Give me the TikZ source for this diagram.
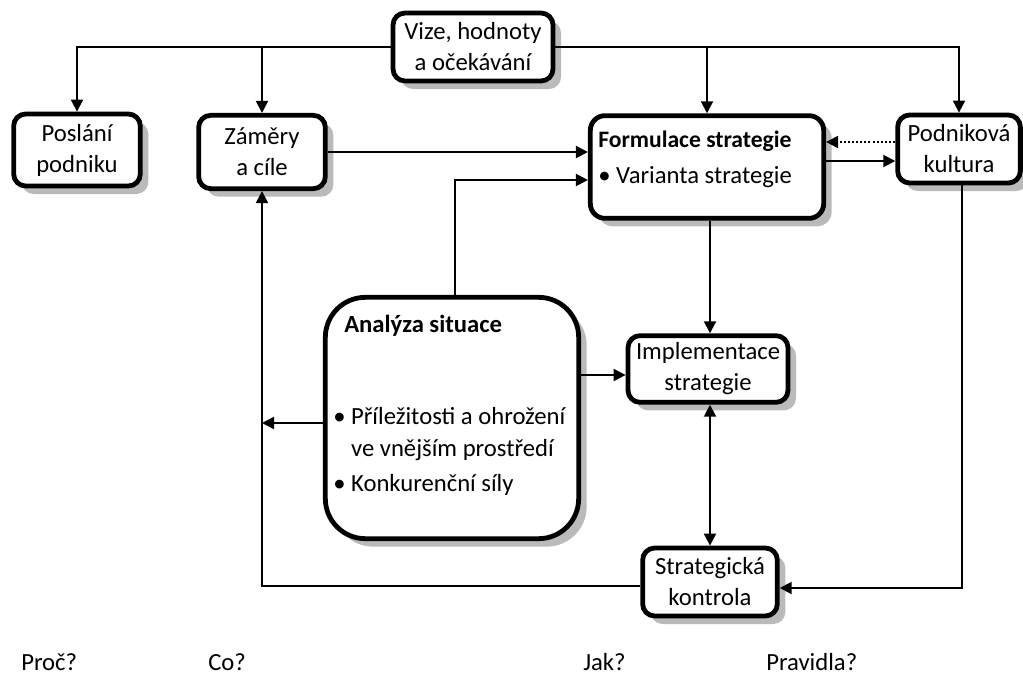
\documentclass[tikz,border=0pt]{standalone}
\usepackage{fontspec}
\setmainfont{Carlito}
\usetikzlibrary{arrows.meta,shadows,calc}
\begin{document}
\begin{tikzpicture}[x=0.75pt,y=-0.75pt,
  txt/.style={font=\fontsize{18.5}{23.25}\selectfont},
  card/.style={draw=black, line width=3.6pt, fill=white, rounded corners=9pt,
    inner sep=0pt, align=center, txt,
    drop shadow={fill=black!27, opacity=1, shadow xshift=6pt, shadow yshift=-6pt}},
  link/.style={line width=1.5pt, -{Triangle[length=9pt,width=9pt]}},
  dlink/.style={line width=1.5pt, {Triangle[length=9pt,width=9pt]}-{Triangle[length=9pt,width=9pt]}},
  lbl/.style={txt, anchor=west, inner sep=0pt}]
\useasboundingbox (0,0) rectangle (1023,675);

% boxes (sizes in pt)
\node[card, minimum width=120pt, minimum height=51pt] (vize) at (473,47) {Vize, hodnoty\\a očekávání};
\node[card, minimum width=95pt, minimum height=54pt] (poslani) at (77,150) {Poslání\\podniku};
\node[card, minimum width=95pt, minimum height=55pt] (zamery) at (262,152) {Záměry\\a cíle};
\node[card, minimum width=175pt, minimum height=77pt, rounded corners=11pt] (formulace) at (707,167) {};
\node[card, minimum width=92pt, minimum height=51pt] (podnik) at (959,149) {Podniková\\kultura};
\node[card, minimum width=190pt, minimum height=181pt, rounded corners=30pt] (analyza) at (452,418) {};
\node[card, minimum width=120pt, minimum height=50pt] (impl) at (708,369) {Implementace\\strategie};
\node[card, minimum width=101pt, minimum height=51pt] (kontrola) at (710,582) {Strategická\\kontrola};

% texts inside the strategy formulation box
\node[lbl, font=\fontsize{17.7}{22}\selectfont\bfseries] (ftitle) at (598,141) {Formulace strategie};
\node[lbl] (fbul) at (598,177) {• Varianta strategie};

% texts inside the situation analysis box
\node[lbl, font=\fontsize{18.5}{23.25}\selectfont\bfseries] (atitle) at (344,326) {Analýza situace};
\node[lbl] (abul1) at (333,416) {• Příležitosti a ohrožení};
\node[lbl] (abul2) at (333,450) {\phantom{• }ve vnějším prostředí};
\node[lbl] (abul3) at (333,485) {• Konkurenční síly};

% questions along the bottom
\node[lbl] (q1) at (21,662) {Proč?};
\node[lbl] (q2) at (208,662) {Co?};
\node[lbl] (q3) at (583,662) {Jak?};
\node[lbl] (q4) at (766,662) {Pravidla?};

% links from the vision box
\draw[link] (vize.west) -| (poslani.north);
\draw[link] (zamery.north |- vize.west) -- (zamery.north);
\draw[link] (vize.east) -| (podnik.north);
\draw[link] (formulace.north |- vize.east) -- (formulace.north);

% into the strategy formulation
\draw[link] (zamery.east) -- (zamery.east -| formulace.west);
\draw[link] (analyza.north -| 455,0) |- (formulace.west |- 0,180);
\draw[link] (formulace.east |- 0,161) -- (podnik.west |- 0,161);
\draw[line width=1.5pt, dash pattern=on 1.5pt off 1.6pt, -{Triangle[length=9pt,width=9pt]}]
  (podnik.west |- 0,142) -- (formulace.east |- 0,142);

% implementation and control
\draw[link] (formulace.south -| 710,0) -- (impl.north -| 710,0);
\draw[link] (analyza.east |- 0,375) -- (impl.west |- 0,375);
\draw[dlink] (impl.south -| 710,0) -- (kontrola.north -| 710,0);
\draw[link] (analyza.west |- 0,423) -- (zamery.south |- 0,423);
\draw[link] (kontrola.west |- 0,586) -| (zamery.south);
\draw[link] (podnik.south -| 962,0) |- (kontrola.east |- 0,588);
\end{tikzpicture}
\end{document}
